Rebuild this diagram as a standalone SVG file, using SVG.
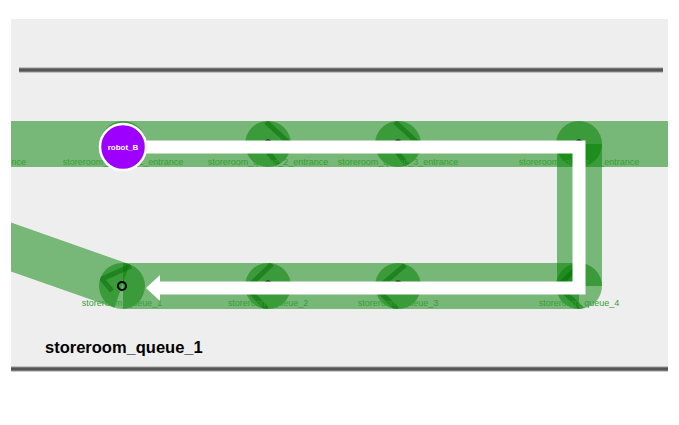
<svg xmlns="http://www.w3.org/2000/svg" width="679" height="425" viewBox="0 0 679 425">
<defs>
<style>
.lane{fill:#008000;opacity:0.5}
.node{fill:#008000;fill-opacity:0.5}
.chev{stroke:#0a700a;stroke-opacity:0.55;stroke-width:5;fill:none;stroke-linecap:butt}
.ring{fill:none;stroke:#000;stroke-width:2}
.lbl{font-family:"Liberation Sans",Arial,sans-serif;font-size:9px;fill:#36a036;text-anchor:middle}
.wall{stroke:#555;stroke-width:3}
.wall2{stroke:#999;stroke-width:5}
</style>
<clipPath id="bgclip"><rect x="11" y="19" width="657" height="351"/></clipPath>
<clipPath id="c1"><circle cx="0" cy="0" r="23"/></clipPath>
</defs>
<rect x="0" y="0" width="679" height="425" fill="#ffffff"/>
<rect id="floor" x="11" y="19" width="657" height="351" fill="#eeeeee"/>
<g id="walls">
<line class="wall2" x1="19" y1="70" x2="663" y2="70"/>
<line class="wall" x1="19" y1="70" x2="663" y2="70"/>
<line class="wall2" x1="11" y1="369" x2="668" y2="369"/>
<line class="wall" x1="11" y1="369" x2="668" y2="369"/>
</g>
<g id="lanes" clip-path="url(#bgclip)">
<rect class="lane" x="11" y="121" width="657" height="46"/>
<rect class="lane" x="557" y="144" width="45" height="142"/>
<rect class="lane" x="123" y="263" width="456" height="46"/>
<line x1="122" y1="286" x2="-100" y2="208" stroke="#008000" stroke-opacity="0.5" stroke-width="46"/>
</g>
<g id="labels-left" clip-path="url(#bgclip)">
<text class="lbl" x="26" y="165" style="text-anchor:end">nce</text>
</g>
<g id="storeroom_queue_1_entrance">
<circle class="node" cx="123" cy="144" r="23"/>
<circle class="ring" cx="123" cy="144" r="3.5"/>
<text class="lbl" x="123" y="165">storeroom_queue_1_entrance</text>
</g>
<g id="storeroom_queue_2_entrance">
<circle class="node" cx="268" cy="144" r="23"/>
<g transform="translate(268,144)"><g clip-path="url(#c1)"><polyline class="chev" points="-2,-22 20,-2"/><polyline class="chev" points="0,8 11,22"/></g></g>
<circle class="ring" cx="268" cy="144" r="3.5"/>
<text class="lbl" x="268" y="165">storeroom_queue_2_entrance</text>
</g>
<g id="storeroom_queue_3_entrance">
<circle class="node" cx="398" cy="144" r="23"/>
<g transform="translate(398,144)"><g clip-path="url(#c1)"><polyline class="chev" points="-3,-22 20,-1"/><polyline class="chev" points="-1,8 10,22"/></g></g>
<circle class="ring" cx="398" cy="144" r="3.5"/>
<text class="lbl" x="398" y="165">storeroom_queue_3_entrance</text>
</g>
<g id="storeroom_queue_4_entrance">
<circle class="node" cx="579" cy="144" r="23"/>
<circle class="ring" cx="579" cy="144" r="3.5"/>
<text class="lbl" x="579" y="165">storeroom_queue_4_entrance</text>
</g>
<g id="storeroom_queue_1">
<circle class="node" cx="122" cy="286" r="23"/>
<g transform="translate(122,286)"><g clip-path="url(#c1)"><polyline class="chev" points="9,-20 -20,-7 -10,5"/></g></g>
<circle class="ring" cx="122" cy="286" r="4"/>
<text class="lbl" x="122" y="306">storeroom_queue_1</text>
</g>
<g id="storeroom_queue_2">
<circle class="node" cx="268" cy="286" r="23"/>
<g transform="translate(268,286)"><g clip-path="url(#c1)"><polyline class="chev" points="4,-22 -21,2 -1,23"/></g></g>
<circle class="ring" cx="268" cy="285" r="3.5"/>
<text class="lbl" x="268" y="306">storeroom_queue_2</text>
</g>
<g id="storeroom_queue_3">
<circle class="node" cx="398" cy="286" r="23"/>
<g transform="translate(398,286)"><g clip-path="url(#c1)"><polyline class="chev" points="7,-21 -21,3 -1,23"/></g></g>
<circle class="ring" cx="398" cy="285" r="3.5"/>
<text class="lbl" x="398" y="306">storeroom_queue_3</text>
</g>
<g id="storeroom_queue_4">
<circle class="node" cx="579" cy="286" r="23"/>
<g transform="translate(579,286)"><g clip-path="url(#c1)"><polyline class="chev" points="2,-22 -21,0 3,23"/></g></g>
<circle class="ring" cx="579" cy="285" r="3.5"/>
<text class="lbl" x="579" y="306">storeroom_queue_4</text>
</g>
<g id="connectors">
<polyline points="140,147 579,147 579,288 158,288" fill="none" stroke="#ffffff" stroke-width="13" stroke-linejoin="miter"/>
<polygon points="146,288 160,275 160,301" fill="#ffffff"/>
</g>
<g id="robot_B">
<circle cx="123" cy="147" r="23" fill="#9d00ff" stroke="#ffffff" stroke-width="2.5"/>
<text x="123" y="150" style="font-family:'Liberation Sans',Arial,sans-serif;font-size:8px;font-weight:bold;fill:#ffffff;text-anchor:middle">robot_B</text>
</g>
<text id="title" x="45" y="353" style="font-family:'Liberation Sans',Arial,sans-serif;font-size:16.5px;font-weight:bold;fill:#000000">storeroom_queue_1</text>
</svg>
